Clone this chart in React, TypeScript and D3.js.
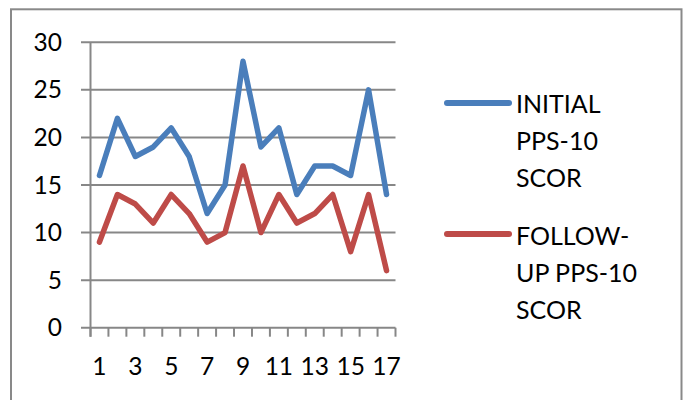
import React from "react";
import * as d3 from "d3";

const categories = ["1","2","3","4","5","6","7","8","9","10","11","12","13","14","15","16","17"];
const initialScores = [16,22,18,19,21,18,12,15,28,19,21,14,17,17,16,25,14];
const followUpScores = [9,14,13,11,14,12,9,10,17,10,14,11,12,14,8,14,6];
const yTicks = [0,5,10,15,20,25,30];
const xTickLabels = ["1","3","5","7","9","11","13","15","17"];
const seriesNames = [["INITIAL","PPS-10","SCOR"],["FOLLOW-","UP PPS-10","SCOR"]];
const colors = ["#4A7EBB", "#BE4B48"];

const W = 685, H = 400;
const plot = { left: 90.5, right: 395.5, top: 42.3, bottom: 327.7 };
const FONT = "Lato, 'Open Sans', sans-serif";

export default function App() {
  const x = d3.scaleBand<string>().domain(categories).range([plot.left, plot.right]);
  const y = d3.scaleLinear().domain([0, 30]).range([plot.bottom, plot.top]);
  const line = d3.line<number>()
    .x((_, i) => (x(categories[i]) as number) + x.bandwidth() / 2)
    .y(d => y(d));
  const grid = "#878787";
  const boundaries = d3.range(categories.length + 1).map(i => plot.left + i * x.bandwidth());
  return (
    <svg width={W} height={H} style={{ position: "absolute", left: 0, top: 0, background: "#fff" }}>
      <rect x={11} y={9.3} width={670.5} height={400} fill="#fff" stroke="#898989" strokeWidth={2} />
      {yTicks.map(t => (
        <g key={t}>
          <line x1={81} x2={plot.right} y1={y(t)} y2={y(t)} stroke={grid} strokeWidth={2} />
          <text x={62} y={y(t) + 8.5} textAnchor="end" fontFamily={FONT} fontSize={24.5} fill="#000">{t}</text>
        </g>
      ))}
      <line x1={plot.left} x2={plot.left} y1={plot.top} y2={plot.bottom + 9} stroke={grid} strokeWidth={2} />
      {boundaries.map((b, i) => (
        <line key={i} x1={b} x2={b} y1={plot.bottom} y2={plot.bottom + 9} stroke={grid} strokeWidth={2} />
      ))}
      {xTickLabels.map(l => (
        <text key={l} x={(x(l) as number) + x.bandwidth() / 2} y={375} textAnchor="middle" fontFamily={FONT} fontSize={24.5} fill="#000">{l}</text>
      ))}
      {[initialScores, followUpScores].map((s, i) => (
        <path key={i} d={line(s) || ""} fill="none" stroke={colors[i]} strokeWidth={5.5} strokeLinejoin="round" strokeLinecap="round" />
      ))}
      {seriesNames.map((lines, i) => {
        const ly = i === 0 ? 103 : 234;
        const base = i === 0 ? 113 : 245;
        return (
          <g key={i}>
            <line x1={447} x2={509} y1={ly} y2={ly} stroke={colors[i]} strokeWidth={6} strokeLinecap="round" />
            {lines.map((t, j) => (
              <text key={j} x={516} y={base + j * 37} fontFamily={FONT} fontSize={25} fill="#000">{t}</text>
            ))}
          </g>
        );
      })}
    </svg>
  );
}
